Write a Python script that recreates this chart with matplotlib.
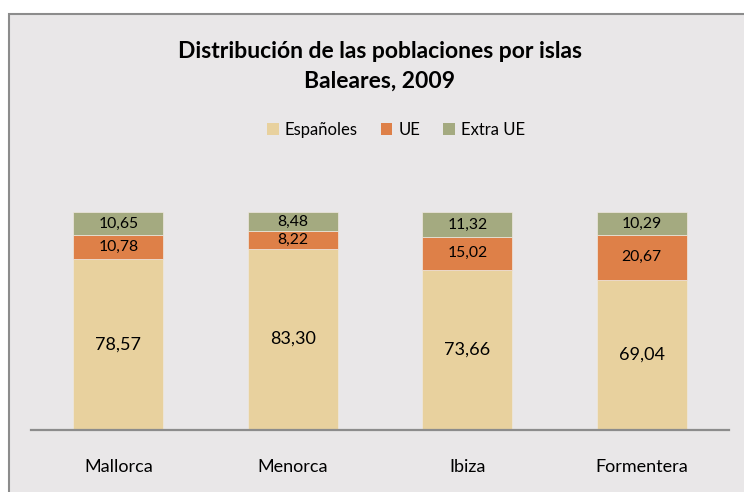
import matplotlib
matplotlib.use("Agg")
import matplotlib.pyplot as plt
from matplotlib.patches import Rectangle, Patch
import numpy as np

islands = ["Mallorca", "Menorca", "Ibiza", "Formentera"]
series_names = ["Españoles", "UE", "Extra UE"]
espanoles = [78.57, 83.30, 73.66, 69.04]
ue = [10.78, 8.22, 15.02, 20.67]
extra_ue = [10.65, 8.48, 11.32, 10.29]
title = "Distribución de las poblaciones por islas\nBaleares, 2009"

colors = ["#E8D19E", "#DE8048", "#A4AA80"]
bg = "#E9E7E8"
FONT = ["Lato", "DejaVu Sans"]
plt.rcParams["font.family"] = FONT

fig = plt.figure(figsize=(7.44, 4.92), dpi=100)
fig.patch.set_facecolor("white")
W, H = 744, 492
frame = Rectangle((9 / W, -0.05), 1.1, 1 - 14 / H + 0.05, transform=fig.transFigure,
                  facecolor=bg, edgecolor="#8C8C8C", linewidth=1.5, zorder=-10)
fig.patches.append(frame)

ax = fig.add_axes([31 / W, 1 - 429.5 / H, (729 - 31) / W, (429.5 - 212.3) / H])
ax.set_facecolor("none")
ax.set_zorder(1)
x = np.arange(len(islands))
width = 0.516
bottom = np.zeros(len(islands))
for vals, col, name in zip([espanoles, ue, extra_ue], colors, series_names):
    vals = np.array(vals)
    bars = ax.bar(x, vals, width, bottom=bottom, color=col, edgecolor="#EFE9E0",
                  linewidth=0.5, label=name, zorder=2)
    fs = 13 if name == "Españoles" else 11.3
    for xi, b, v in zip(x, bottom, vals):
        ax.text(xi, b + v / 2, f"{v:.2f}".replace(".", ","), ha="center", va="center",
                fontsize=fs, color="black", zorder=3)
    bottom += vals

ax.set_xlim(-0.5, len(islands) - 0.5)
ax.set_ylim(0, 100)
ax.set_yticks([])
ax.set_xticks(x)
ax.set_xticklabels(islands, fontsize=13)
ax.tick_params(axis="x", length=0, pad=21)
for s in ["top", "right", "left"]:
    ax.spines[s].set_visible(False)
ax.spines["bottom"].set_color("#8C8C8C")
ax.spines["bottom"].set_linewidth(1.6)
ax.spines["bottom"].set_zorder(4)

fig.text(380 / W, 1 - 66 / H, title, ha="center", va="center", fontsize=16.5,
         fontweight="bold", linespacing=1.5)

handles = [Patch(facecolor=c, label=n) for c, n in zip(colors, series_names)]
fig.legend(handles=handles, loc="center", bbox_to_anchor=(396 / W, 1 - 130 / H), ncol=3,
           frameon=False, fontsize=12, handlelength=0.7, handleheight=0.7,
           handletextpad=0.35, columnspacing=1.4)

fig.savefig("out.png", dpi=100, facecolor=fig.get_facecolor())
